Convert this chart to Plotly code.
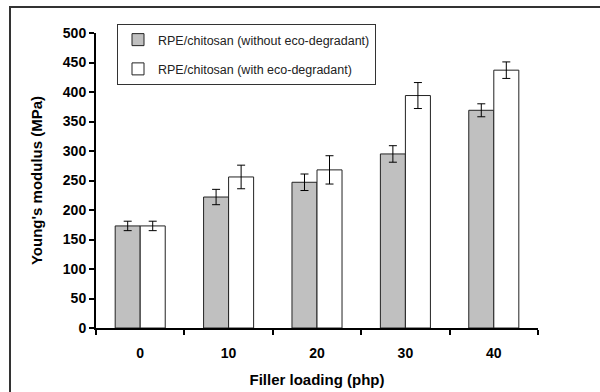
import plotly.graph_objects as go

categories = ["0", "10", "20", "30", "40"]
without_vals = [173, 222, 247, 295, 369]
without_err = [8, 13, 14, 14, 11]
with_vals = [173, 256, 268, 394, 437]
with_err = [8, 20, 24, 22, 14]
y_ticks = [0, 50, 100, 150, 200, 250, 300, 350, 400, 450, 500]

fig = go.Figure()
fig.add_trace(go.Bar(
    x=categories, y=without_vals, name="RPE/chitosan (without eco-degradant)",
    marker=dict(color="#c0c0c0", line=dict(color="#222222", width=1)),
    error_y=dict(type="data", array=without_err, color="black", thickness=1, width=4),
    legendgroup="a",
))
fig.add_trace(go.Bar(
    x=categories, y=with_vals, name="RPE/chitosan (with eco-degradant)",
    marker=dict(color="white", line=dict(color="#222222", width=1)),
    error_y=dict(type="data", array=with_err, color="black", thickness=1, width=4),
    legendgroup="b",
))

L, R, T, B = 96, 62, 33, 64
W, H = 600, 392
pw, ph = W - L - R, H - T - B

fig.update_layout(
    width=W, height=H,
    margin=dict(l=L, r=R, t=T, b=B, autoexpand=False),
    paper_bgcolor="white", plot_bgcolor="white",
    barmode="group", bargap=0.434, bargroupgap=0,
    font=dict(family="Liberation Sans, Arial, sans-serif", color="black"),
    showlegend=True,
    legend=dict(
        x=(117 - L) / pw, y=(H - B - 24) / ph, xanchor="left", yanchor="top",
        bordercolor="#333333", borderwidth=1, bgcolor="white",
        font=dict(size=12.5, color="#222222"), tracegroupgap=10,
        itemwidth=30,
    ),
    xaxis=dict(
        type="category", range=[-0.5, 4.5], automargin=False,
        showline=True, linecolor="black", linewidth=2,
        ticks="outside", ticklen=5, tickwidth=2, tickcolor="black",
        tickson="boundaries", showgrid=False,
        tickfont=dict(size=14),
        ticklabelstandoff=11,
        title=dict(text="<b>Filler loading (php)</b>", font=dict(size=15), standoff=15),
    ),
    yaxis=dict(
        range=[0, 500], tickvals=y_ticks, automargin=False,
        ticktext=[f"<b>{v}</b>" for v in y_ticks],
        showline=True, linecolor="black", linewidth=2,
        ticks="outside", ticklen=5, tickwidth=2, tickcolor="black",
        showgrid=False, zeroline=False,
        tickfont=dict(size=14),
        title=dict(text="<b>Young's modulus (MPa)</b>", font=dict(size=15), standoff=17),
    ),
)
fig.update_xaxes(ticktext=[f"<b>{c}</b>" for c in categories], tickvals=categories)

# outer frame (partially cropped in the reference)
fig.add_shape(type="rect", xref="paper", yref="paper",
              x0=(10 - L) / pw, x1=(W + 50 - L) / pw,
              y0=(H - B - (H + 50)) / ph, y1=(H - B - 7) / ph,
              line=dict(color="#333333", width=2), layer="below")

fig.write_html("out.html", config={"displayModeBar": False},
               post_script="document.body.style.margin='0';document.body.style.overflow='hidden';")
